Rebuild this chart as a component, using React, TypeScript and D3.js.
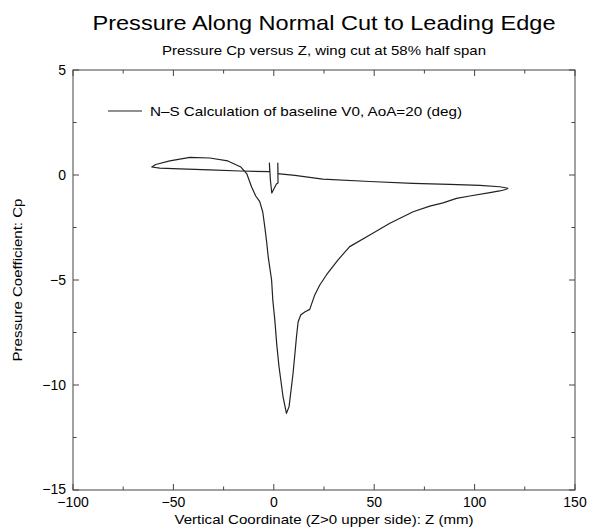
import React from "react";
import * as d3 from "d3";

const zValues = [116.7, 112.5, 102.6, 87.6, 69.2, 47.8, 24.4, 17.9, 10.5, 3.0, 2.1, 2.0, 2.1, 1.3, -1.0, -1.7, -2.2, -2.0,
  -16.9, -31.9, -46.8, -56.8, -60.8, -58.8, -51.8, -41.8, -31.9, -22.9, -16.4, -13.4, -11.1, -9.0, -7.0, -5.5, -4.5, -3.5,
  -2.8, -1.1, -0.5, 0.5, 1.5, 2.6, 4.6, 6.3, 7.6, 9.6, 11.3, 12.1, 13.4, 15.4, 17.9, 20.4, 22.9, 26.2, 31.9, 37.8, 47.8,
  57.8, 69.4, 77.7, 84.3, 91.0, 97.6, 107.6, 112.5, 115.5, 116.7];
const cpValues = [-0.63, -0.56, -0.49, -0.45, -0.40, -0.31, -0.20, -0.11, -0.02, 0.05, 0.05, 0.57, -0.38, -0.43, -0.86, -0.24, 0.57, 0.16,
  0.19, 0.24, 0.29, 0.33, 0.38, 0.5, 0.67, 0.84, 0.81, 0.67, 0.38, 0.05, -0.56, -1.0, -1.27, -1.76, -2.46, -3.24,
  -3.89, -5.0, -5.95, -6.9, -8.1, -9.13, -10.56, -11.35, -11.03, -9.44, -7.7, -7.0, -6.67, -6.52, -6.40, -5.71, -5.24, -4.76, -4.05, -3.41, -2.86,
  -2.3, -1.75, -1.48, -1.33, -1.11, -1.0, -0.84, -0.76, -0.69, -0.63];

const xMajorTicks = [-100, -50, 0, 50, 100, 150];
const xMinorTicks = [-75, -25, 25, 75, 125];
const yMajorTicks = [5, 0, -5, -10, -15];
const yMinorTicks = [2.5, -2.5, -7.5, -12.5];

const title = "Pressure Along Normal Cut to Leading Edge";
const subtitle = "Pressure Cp versus Z, wing cut at 58% half span";
const xTitle = "Vertical Coordinate (Z>0 upper side):  Z (mm)";
const yTitle = "Pressure Coefficient:  Cp";
const legendLabel = "N\u2013S Calculation of baseline V0, AoA=20 (deg)";

export default function App() {
  const W = 599, H = 530;
  const left = 73, right = 575, top = 70, bottom = 490;
  const x = d3.scaleLinear().domain([-100, 150]).range([left, right]);
  const y = d3.scaleLinear().domain([-15, 5]).range([bottom, top]);
  const pts: [number, number][] = zValues.map((z, i) => [z, cpValues[i]]);
  const line = d3.line<[number, number]>().x(d => x(d[0])).y(d => y(d[1]));
  const font = "'Liberation Sans', Arial, Helvetica, sans-serif";
  const axisColor = "#444";
  const major = 6, minor = 3.5;
  const cx = (left + right) / 2;
  const fmt = (t: number) => (t < 0 ? "\u2212" + Math.abs(t) : String(t));
  return (
    <svg width={W} height={H} style={{ position: "absolute", left: 0, top: 0 }} fontFamily={font}>
      <rect x={0} y={0} width={W} height={H} fill="#fff" />
      <text x={cx} y={30} textAnchor="middle" fontSize={21} fill="#000" textLength={463} lengthAdjust="spacingAndGlyphs">{title}</text>
      <text x={cx} y={55} textAnchor="middle" fontSize={13.5} fill="#000" textLength={324} lengthAdjust="spacingAndGlyphs">{subtitle}</text>
      <rect x={left} y={top} width={right - left} height={bottom - top} fill="none" stroke={axisColor} strokeWidth={1} />
      {xMajorTicks.map(t => (
        <g key={"xM" + t}>
          <line x1={x(t)} x2={x(t)} y1={bottom} y2={bottom - major} stroke={axisColor} />
          <line x1={x(t)} x2={x(t)} y1={top} y2={top + major} stroke={axisColor} />
          <text x={x(t)} y={bottom + 17} textAnchor="middle" fontSize={14} fill="#000">{fmt(t)}</text>
        </g>
      ))}
      {xMinorTicks.map(t => (
        <g key={"xm" + t}>
          <line x1={x(t)} x2={x(t)} y1={bottom} y2={bottom - minor} stroke={axisColor} />
          <line x1={x(t)} x2={x(t)} y1={top} y2={top + minor} stroke={axisColor} />
        </g>
      ))}
      {yMajorTicks.map(t => (
        <g key={"yM" + t}>
          <line x1={left} x2={left + major} y1={y(t)} y2={y(t)} stroke={axisColor} />
          <line x1={right} x2={right - major} y1={y(t)} y2={y(t)} stroke={axisColor} />
          <text x={left - 7} y={y(t) + (t === -15 ? 3.5 : 5)} textAnchor="end" fontSize={14} fill="#000">{fmt(t)}</text>
        </g>
      ))}
      {yMinorTicks.map(t => (
        <g key={"ym" + t}>
          <line x1={left} x2={left + minor} y1={y(t)} y2={y(t)} stroke={axisColor} />
          <line x1={right} x2={right - minor} y1={y(t)} y2={y(t)} stroke={axisColor} />
        </g>
      ))}
      <text x={cx} y={524} textAnchor="middle" fontSize={13.5} fill="#000" textLength={299} lengthAdjust="spacingAndGlyphs">{xTitle}</text>
      <text transform={`translate(22,${(top + bottom) / 2}) rotate(-90)`} textAnchor="middle" fontSize={13.5} fill="#000" textLength={163} lengthAdjust="spacingAndGlyphs">{yTitle}</text>
      <path d={line(pts) || ""} fill="none" stroke="#222" strokeWidth={1.2} strokeLinejoin="round" />
      <line x1={108} x2={142} y1={111} y2={111} stroke="#222" strokeWidth={1.2} />
      <text x={150} y={115.5} fontSize={13.5} fill="#000" textLength={312} lengthAdjust="spacingAndGlyphs">{legendLabel}</text>
    </svg>
  );
}
